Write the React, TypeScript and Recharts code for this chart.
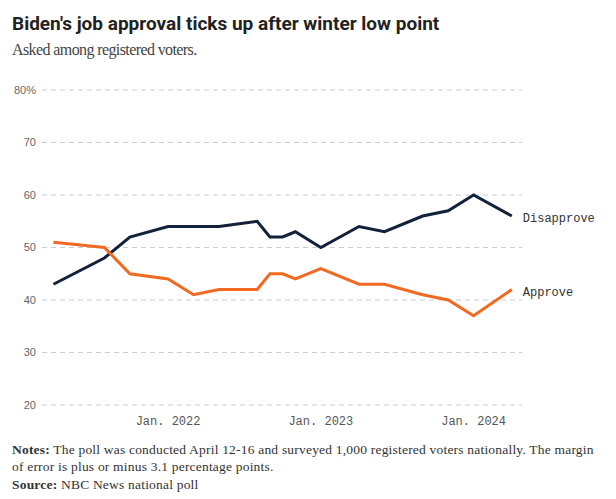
import { LineChart, Line, XAxis, YAxis, CartesianGrid } from "recharts";

// poll dates (year-month), values in %
const pollDates = [
  "2021-04", "2021-08", "2021-10", "2022-01", "2022-03", "2022-05", "2022-08",
  "2022-09", "2022-10", "2022-11", "2023-01", "2023-04", "2023-06", "2023-09",
  "2023-11", "2024-01", "2024-04",
];
const disapprove = [43, 48, 52, 54, 54, 54, 55, 52, 52, 53, 50, 54, 53, 56, 57, 60, 56];
const approve = [51, 50, 45, 44, 41, 42, 42, 45, 45, 44, 46, 43, 43, 41, 40, 37, 42];

const yTicks = [20, 30, 40, 50, 60, 70, 80];
const xTicks = ["2022-01", "2023-01", "2024-01"];
const xTickLabels = ["Jan. 2022", "Jan. 2023", "Jan. 2024"];

const NAVY = "#13213b";
const ORANGE = "#f26a21";
const MONO = "'Liberation Mono', 'DejaVu Sans Mono', monospace";
const SERIF = "'Liberation Serif', serif";

// months since Jan. 2022
function monthIndex(d: string): number {
  const [y, m] = d.split("-").map(Number);
  return (y - 2022) * 12 + (m - 1);
}

const data = pollDates.map((d, i) => ({
  t: monthIndex(d),
  disapprove: disapprove[i],
  approve: approve[i],
}));

const tickPos = xTicks.map(monthIndex);

function endLabel(text: string) {
  return (props: any) => {
    const { x, y, index } = props;
    if (index !== data.length - 1) return null;
    return (
      <text
        x={x + 11}
        y={y + 2}
        dy="0.35em"
        fill="#333"
        fontSize={12}
        fontFamily={MONO}
      >
        {text}
      </text>
    );
  };
}

export default function App() {
  return (
    <div
      style={{
        position: "absolute",
        left: 0,
        top: 0,
        width: 616,
        height: 499,
        background: "#fff",
        overflow: "hidden",
      }}
    >
      <div
        style={{
          position: "absolute",
          left: 12,
          top: 14,
          fontFamily: "'Liberation Sans Narrow', 'Roboto', sans-serif",
          fontWeight: 700,
          fontSize: 19,
          lineHeight: 1,
          color: "#222",
          whiteSpace: "nowrap",
        }}
      >
        Biden's job approval ticks up after winter low point
      </div>
      <div
        style={{
          position: "absolute",
          left: 12,
          top: 42,
          fontFamily: SERIF,
          fontSize: 16,
          letterSpacing: -0.6,
          lineHeight: 1,
          color: "#444",
          whiteSpace: "nowrap",
        }}
      >
        Asked among registered voters.
      </div>

      <div style={{ position: "absolute", left: 0, top: 70 }}>
        <LineChart
          width={616}
          height={370}
          data={data}
          margin={{ top: 20, right: 94, left: 0, bottom: 5 }}
        >
          <CartesianGrid
            vertical={false}
            stroke="#ccc"
            strokeDasharray="5 4"
          />
          <XAxis
            dataKey="t"
            type="number"
            domain={[-9.9, 27.8]}
            ticks={tickPos}
            tickFormatter={(v) => xTickLabels[tickPos.indexOf(v)] ?? ""}
            axisLine={false}
            tickLine={false}
            tickSize={6}
            tickMargin={5}
            height={30}
            tick={{ fontSize: 12, fill: "#555", fontFamily: MONO }}
          />
          <YAxis
            domain={[20, 80]}
            ticks={yTicks}
            tickFormatter={(v) => (v === 80 ? "80%" : String(v))}
            axisLine={false}
            tickLine={false}
            tickSize={4}
            tickMargin={2}
            width={42}
            tick={{
              fontSize: 11,
              fill: "#666",
              fontFamily: "'Liberation Sans', Arial, sans-serif",
            }}
          />
          <Line
            dataKey="disapprove"
            stroke={NAVY}
            strokeWidth={3}
            dot={false}
            isAnimationActive={false}
            label={endLabel("Disapprove")}
          />
          <Line
            dataKey="approve"
            stroke={ORANGE}
            strokeWidth={3}
            dot={false}
            isAnimationActive={false}
            label={endLabel("Approve")}
          />
        </LineChart>
      </div>

      <div
        style={{
          position: "absolute",
          left: 12,
          top: 441,
          fontFamily: SERIF,
          fontSize: 13.5,
          letterSpacing: 0.2,
          lineHeight: "17px",
          color: "#333",
          whiteSpace: "nowrap",
        }}
      >
        <b>Notes:</b> The poll was conducted April 12-16 and surveyed 1,000
        registered voters nationally. The margin
        <br />
        of error is plus or minus 3.1 percentage points.
        <div style={{ marginTop: 1 }}>
          <b>Source:</b> NBC News national poll
        </div>
      </div>
    </div>
  );
}
